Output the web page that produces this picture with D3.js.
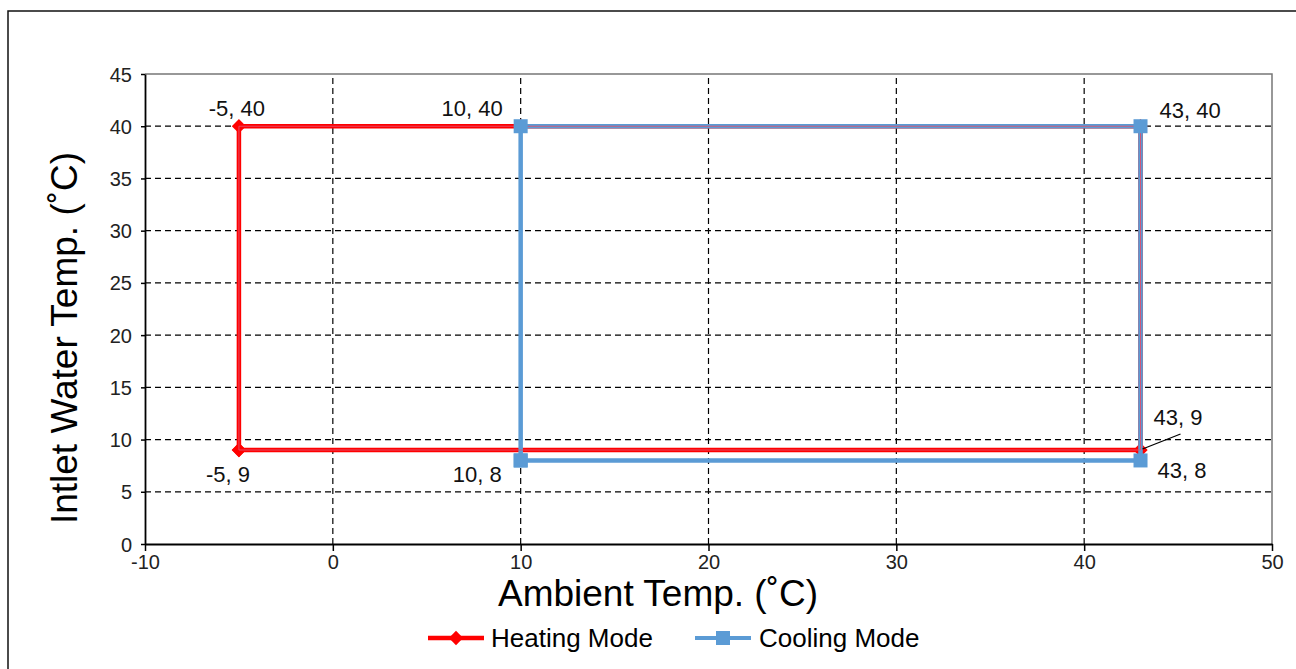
<!DOCTYPE html>
<html>
<head>
<meta charset="utf-8">
<script src="https://cdn.jsdelivr.net/npm/d3@7"></script>
<style>
    body { margin: 0; background: #fff; }
    svg { font-family: "Liberation Sans", Arial, sans-serif; }
    .grid line { stroke: #000; stroke-dasharray: 6,4; stroke-width: 1.2; }
</style>
</head>
<body>
<svg width="1296" height="669"></svg>
<script>
const width = 1296;
const height = 669;

const margin = { top: 74, right: 24, bottom: 125, left: 145 };

// data
const heatingX = [-5, -5, 10, 43, 43, -5];
const heatingY = [9, 40, 40, 40, 9, 9];
const coolingX = [10, 10, 43, 43, 10];
const coolingY = [8, 40, 40, 8, 8];
const xTicks = [-10, 0, 10, 20, 30, 40, 50];
const yTicks = [0, 5, 10, 15, 20, 25, 30, 35, 40, 45];
const pointLabels = ["-5, 40", "10, 40", "43, 40", "43, 9", "43, 8", "-5, 9", "10, 8"];
const labelX = [-5, 10, 43, 43, 43, -5, 10];
const labelY = [40, 40, 40, 9, 8, 9, 8];

const heating = heatingX.map((x, i) => ({ x: x, y: heatingY[i] }));
const cooling = coolingX.map((x, i) => ({ x: x, y: coolingY[i] }));

const red = "#ff0000";
const blue = "#5b9bd5";

const svg = d3.select("svg");

// outer frame
svg.append("rect")
    .attr("x", 8).attr("y", 11)
    .attr("width", 1300).attr("height", 700)
    .attr("fill", "none")
    .attr("stroke", "#111")
    .attr("stroke-width", 1.5);

const xScale = d3.scaleLinear()
    .domain([-10, 50])
    .range([margin.left, width - margin.right]);

const yScale = d3.scaleLinear()
    .domain([0, 45])
    .range([height - margin.bottom, margin.top]);

// grid
svg.append("g").attr("class", "grid")
    .selectAll("line")
    .data(xTicks.filter(d => d > -10 && d < 50))
    .join("line")
    .attr("x1", d => xScale(d)).attr("x2", d => xScale(d))
    .attr("y1", yScale(0)).attr("y2", yScale(45));

svg.append("g").attr("class", "grid")
    .selectAll("line")
    .data(yTicks.filter(d => d > 0 && d < 45))
    .join("line")
    .attr("x1", xScale(-10)).attr("x2", xScale(50))
    .attr("y1", d => yScale(d)).attr("y2", d => yScale(d));

// top and right border of the plot
svg.append("path")
    .attr("d", `M${xScale(-10)},${yScale(45)}H${xScale(50)}V${yScale(0)}`)
    .attr("fill", "none")
    .attr("stroke", "#777")
    .attr("stroke-width", 1.5);

// axes
const xAxis = svg.append("g")
    .attr("transform", `translate(0,${yScale(0)})`)
    .call(d3.axisBottom(xScale).tickValues(xTicks).tickFormat(d => String(d))
        .tickSize(7).tickSizeOuter(0).tickPadding(2));

const yAxis = svg.append("g")
    .attr("transform", `translate(${xScale(-10)},0)`)
    .call(d3.axisLeft(yScale).tickValues(yTicks).tickFormat(d => String(d))
        .tickSize(4).tickSizeOuter(0).tickPadding(9));

[xAxis, yAxis].forEach(a => {
    a.attr("font-size", 20).attr("font-family", "Liberation Sans, Arial, sans-serif");
    a.select(".domain").attr("stroke", "#000").attr("stroke-width", 1.8);
    a.selectAll(".tick line").attr("stroke", "#000").attr("stroke-width", 1.5);
    a.selectAll(".tick text").attr("fill", "#222");
});
xAxis.selectAll(".tick text").attr("dy", "0.8em");
yAxis.selectAll(".tick text").attr("dy", "0.35em");

const line = d3.line()
    .x(d => xScale(d.x))
    .y(d => yScale(d.y));

// heating line (under)
svg.append("path")
    .datum(heating)
    .attr("d", line)
    .attr("fill", "none")
    .attr("stroke", red)
    .attr("stroke-width", 4.5);

// heating diamonds
const diamond = d3.symbol().type(d3.symbolDiamond2).size(130);
svg.append("g")
    .selectAll("path")
    .data(heating)
    .join("path")
    .attr("d", diamond)
    .attr("transform", d => `translate(${xScale(d.x)},${yScale(d.y)})`)
    .attr("fill", red);

// cooling line
svg.append("path")
    .datum(cooling)
    .attr("d", line)
    .attr("fill", "none")
    .attr("stroke", blue)
    .attr("stroke-width", 4.5);

// thin heating overlay where lines overlap
svg.append("path")
    .datum(heating)
    .attr("d", line)
    .attr("fill", "none")
    .attr("stroke", "#e0506e")
    .attr("stroke-width", 0.9);

// cooling squares
svg.append("g")
    .selectAll("rect")
    .data(cooling)
    .join("rect")
    .attr("x", d => xScale(d.x) - 7)
    .attr("y", d => yScale(d.y) - 7)
    .attr("width", 14)
    .attr("height", 14)
    .attr("fill", blue);

// point labels
const offsets = [
    [-2, -10, "middle"],
    [-18, -10, "end"],
    [19, -8, "start"],
    [13, -25, "start"],
    [17, 18, "start"],
    [-11, 32, "middle"],
    [-19, 22, "end"]
];
svg.append("g")
    .selectAll("text")
    .data(pointLabels)
    .join("text")
    .attr("x", (d, i) => xScale(labelX[i]) + offsets[i][0])
    .attr("y", (d, i) => yScale(labelY[i]) + offsets[i][1])
    .attr("text-anchor", (d, i) => offsets[i][2])
    .attr("font-size", 22)
    .attr("fill", "#111")
    .text(d => d);

// leader line for 43, 9
svg.append("line")
    .attr("x1", xScale(43) + 2).attr("y1", yScale(9) - 1)
    .attr("x2", xScale(43) + 40).attr("y2", yScale(9) - 16)
    .attr("stroke", "#000")
    .attr("stroke-width", 1.3);

// x axis label
svg.append("text")
    .attr("x", 658)
    .attr("y", 606)
    .attr("text-anchor", "middle")
    .attr("font-size", 37)
    .attr("fill", "#000")
    .text("Ambient Temp. (˚C)");

// y axis label
svg.append("text")
    .attr("transform", "rotate(-90)")
    .attr("x", -338)
    .attr("y", 77)
    .attr("text-anchor", "middle")
    .attr("font-size", 37)
    .attr("fill", "#000")
    .text("Intlet Water Temp. (˚C)");

// legend
const legend = svg.append("g").attr("transform", "translate(0,638)");

legend.append("line")
    .attr("x1", 428).attr("x2", 484)
    .attr("stroke", red).attr("stroke-width", 4.5);
legend.append("path")
    .attr("d", diamond)
    .attr("transform", "translate(456,0)")
    .attr("fill", red);
legend.append("text")
    .attr("x", 491).attr("y", 9)
    .attr("font-size", 26)
    .text("Heating Mode");

legend.append("line")
    .attr("x1", 695).attr("x2", 751)
    .attr("stroke", blue).attr("stroke-width", 4);
legend.append("rect")
    .attr("x", 716).attr("y", -7)
    .attr("width", 14).attr("height", 14)
    .attr("fill", blue);
legend.append("text")
    .attr("x", 759).attr("y", 9)
    .attr("font-size", 26)
    .text("Cooling Mode");
</script>
</body>
</html>
